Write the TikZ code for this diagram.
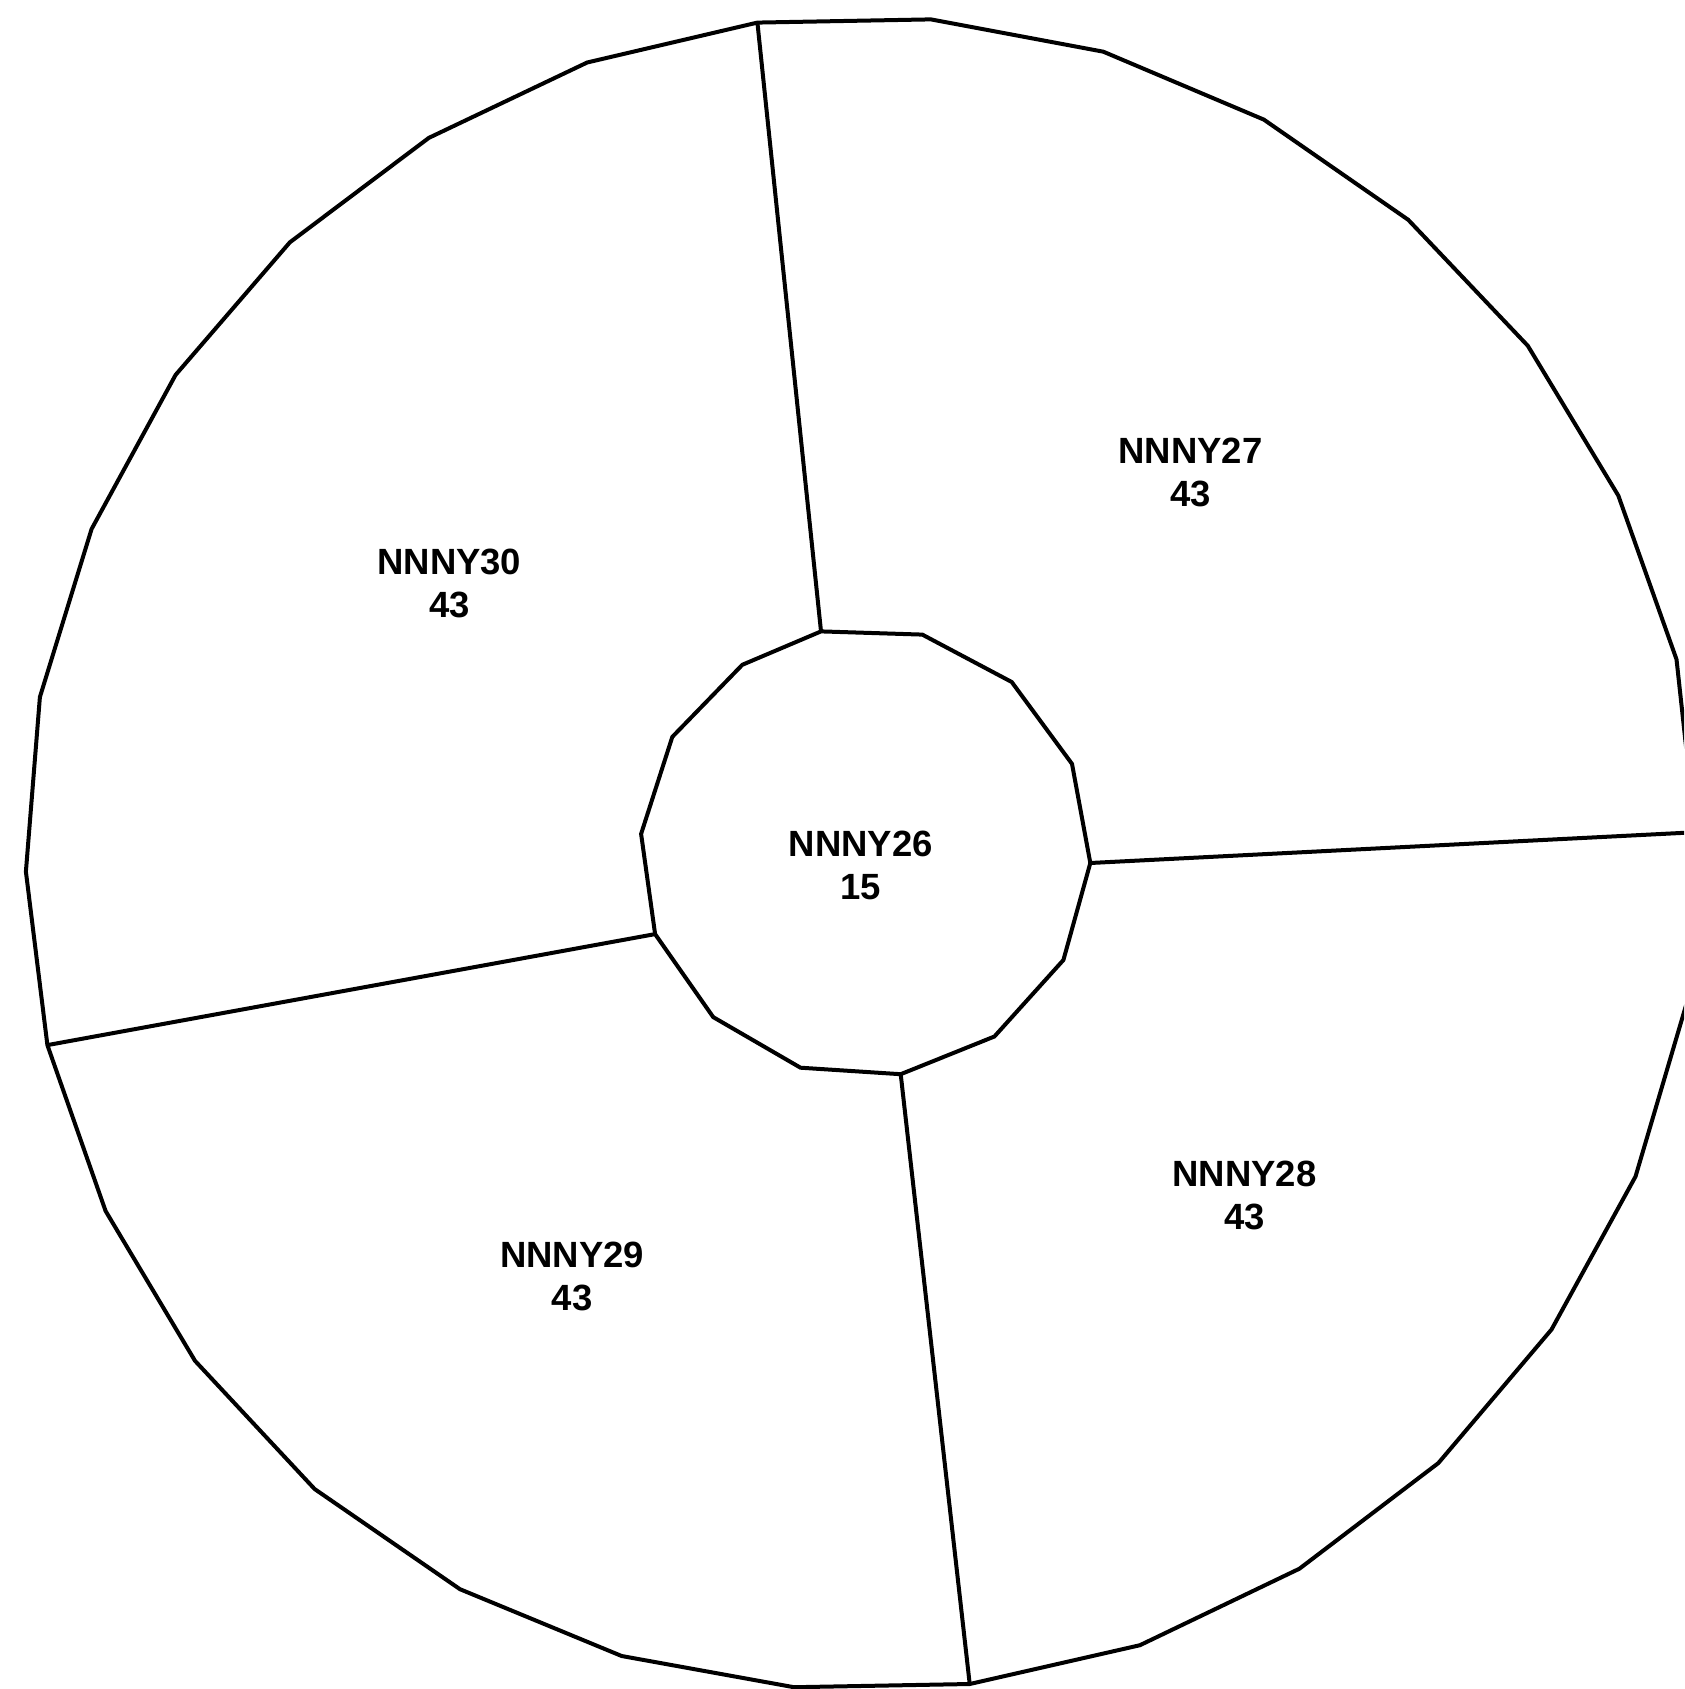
\documentclass[tikz,border=0pt]{standalone}
\usepackage{fontspec}
\setmainfont{Liberation Sans}
\begin{document}
\begin{tikzpicture}[x=0.5pt,y=-0.5pt,
  edge/.style={line width=2pt, line join=miter},
  lbl/.style={font=\bfseries\fontsize{18.25}{21.5}\selectfont, align=center, inner sep=0pt}]
\useasboundingbox (0,0) rectangle (1684,1689);
\clip (0,0) rectangle (1684,1689);
% divider endpoints
\coordinate (oT) at (757.4,22.6);
\coordinate (iT) at (821.0,631.4);
\coordinate (iR) at (1090.3,863.0);
\coordinate (oR) at (1700,832);
\coordinate (iB) at (900.7,1074.2);
\coordinate (oB) at (969.7,1684.0);
\coordinate (iL) at (655.1,934.1);
\coordinate (oL) at (47.4,1045.1);
% outer ring
\draw[edge] (oT) -- (930.9,19.4) -- (1103.3,51.7) -- (1263.8,119.6) -- (1408.2,219.8)
  -- (1527.8,345.8) -- (1618.3,495.6) -- (1676.5,659.4) -- (1694,820) -- (1692,985)
  -- (1635.5,1176.5) -- (1551.5,1329.5) -- (1438.3,1463.1) -- (1299.4,1568.7)
  -- (1139.9,1645.2) -- (oB) -- (794.0,1687.2) -- (621.7,1656.0) -- (460.0,1589.2)
  -- (314.6,1489.0) -- (195.0,1360.8) -- (105.6,1211.0) -- (oL) -- (25.9,871.6)
  -- (39.9,697.1) -- (91.6,529.0) -- (175.6,374.9) -- (289.8,242.4) -- (428.8,137.9)
  -- (587.2,62.5) -- cycle;
% inner polygon
\draw[edge] (iT) -- (922.3,634.6) -- (1011.7,682.0) -- (1072.0,763.9) -- (iR)
  -- (1063.4,960.0) -- (994.4,1036.5) -- (iB) -- (800.5,1067.7) -- (713.2,1017.1)
  -- (iL) -- (641.1,833.9) -- (672.3,736.9) -- (742.3,664.8) -- cycle;
% dividers
\draw[edge] (oT) -- (iT);
\draw[edge] (iR) -- (oR);
\draw[edge] (iB) -- (oB);
\draw[edge] (iL) -- (oL);
% labels
\node[lbl] (n27) at (1190.5,472) {NNNY27\\43};
\node[lbl] (n30) at (449.3,583) {NNNY30\\43};
\node[lbl] (n26) at (860.8,865) {NNNY26\\15};
\node[lbl] (n28) at (1244.4,1195) {NNNY28\\43};
\node[lbl] (n29) at (572.1,1276) {NNNY29\\43};
\end{tikzpicture}
\end{document}
